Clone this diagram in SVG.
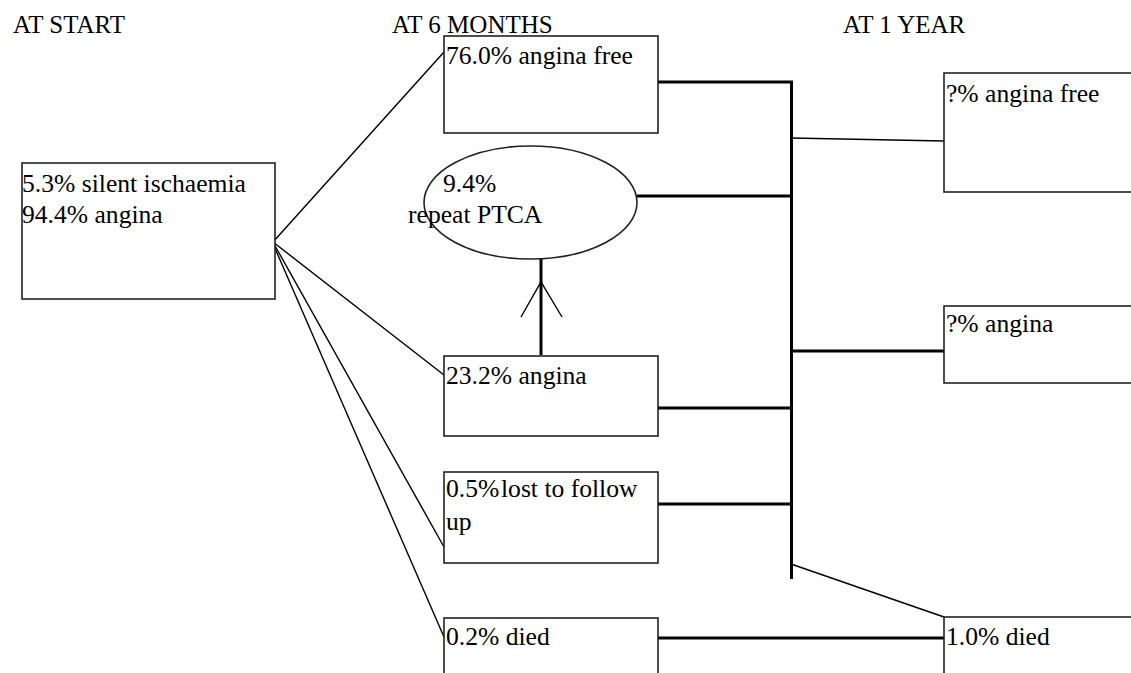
<svg xmlns="http://www.w3.org/2000/svg" width="1131" height="673" viewBox="0 0 1131 673">
<style>
.box { fill: #fff; stroke: #222; stroke-width: 1.6; }
.thick { stroke: #000; stroke-width: 3; fill: none; }
.thin { stroke: #000; stroke-width: 1.4; fill: none; }
.h { font-family: "Liberation Serif", "Times New Roman", serif; font-size: 25px; fill: #000; }
.t { font-family: "Liberation Serif", "Times New Roman", serif; font-size: 25.6px; fill: #000; }
</style>
<rect width="1131" height="673" fill="#fff"/>
<g id="headers">
<text class="h" x="13" y="33">AT START</text>
<text class="h" x="392" y="33">AT 6 MONTHS</text>
<text class="h" x="843" y="33">AT 1 YEAR</text>
</g>
<g id="connectors">
<line class="thin" x1="273" y1="242" x2="444" y2="52"/>
<line class="thin" x1="273" y1="242" x2="444" y2="375"/>
<line class="thin" x1="274" y1="244" x2="444" y2="547"/>
<line class="thin" x1="274" y1="246" x2="444" y2="637"/>
<line class="thick" x1="791.5" y1="81" x2="791.5" y2="579"/>
<line class="thick" x1="657" y1="82" x2="793" y2="82"/>
<line class="thick" x1="637" y1="196" x2="791" y2="196"/>
<line class="thick" x1="657" y1="408" x2="791" y2="408"/>
<line class="thick" x1="657" y1="504" x2="791" y2="504"/>
<line class="thick" x1="791" y1="351" x2="944" y2="351"/>
<line class="thick" x1="657" y1="638" x2="944" y2="638"/>
<line class="thin" x1="791" y1="138" x2="944" y2="141"/>
<line class="thin" x1="791" y1="564" x2="944" y2="617"/>
<line class="thick" x1="541" y1="259" x2="541" y2="355"/>
<polyline class="thin" points="521,317 541,282 562,317"/>
</g>
<g id="start">
<rect class="box" x="22" y="163" width="253" height="136"/>
<text class="t" x="22" y="192">5.3% silent ischaemia</text>
<text class="t" x="22" y="223">94.4% angina</text>
</g>
<g id="m6-angina-free">
<rect class="box" x="444" y="36" width="214" height="97"/>
<text class="t" x="446" y="64">76.0% angina free</text>
</g>
<g id="m6-repeat-ptca">
<ellipse class="box" cx="530.5" cy="202.5" rx="106.5" ry="56.5"/>
<text class="t" x="443" y="192">9.4%</text>
<text class="t" x="408" y="223">repeat PTCA</text>
</g>
<g id="m6-angina">
<rect class="box" x="444" y="356" width="214" height="80"/>
<text class="t" x="446" y="384">23.2% angina</text>
</g>
<g id="m6-lost">
<rect class="box" x="444" y="472" width="214" height="91"/>
<text class="t" x="446" y="497">0.5%<tspan x="501">lost to follow</tspan></text>
<text class="t" x="446" y="530">up</text>
</g>
<g id="m6-died">
<rect class="box" x="444" y="618" width="214" height="100"/>
<text class="t" x="446" y="645">0.2% died</text>
</g>
<g id="y1-angina-free">
<rect class="box" x="944" y="73" width="220" height="119"/>
<text class="t" x="946" y="102">?% angina free</text>
</g>
<g id="y1-angina">
<rect class="box" x="944" y="306" width="220" height="77"/>
<text class="t" x="946" y="332">?% angina</text>
</g>
<g id="y1-died">
<rect class="box" x="944" y="617" width="220" height="100"/>
<text class="t" x="946" y="645">1.0% died</text>
</g>
</svg>
